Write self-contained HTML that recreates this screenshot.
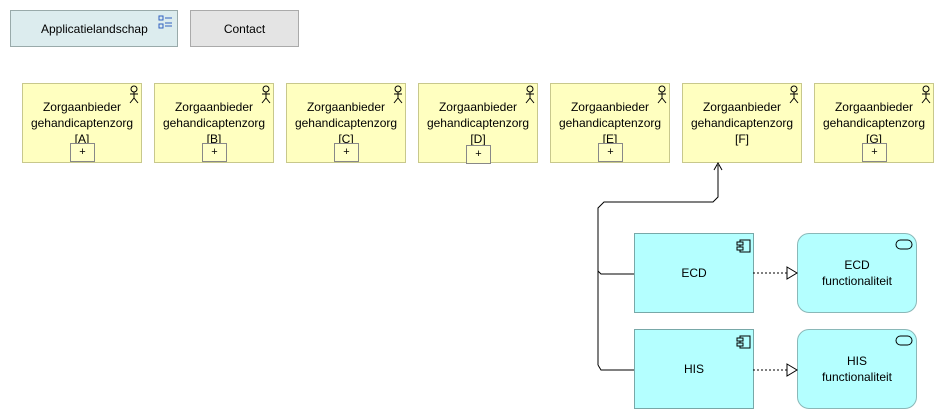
<!DOCTYPE html>
<html><head><style>
body{margin:0;width:944px;height:419px;background:#fff;position:relative;font-family:"Liberation Sans",sans-serif;font-size:12px;color:#000;overflow:hidden}
.b{position:absolute;box-sizing:border-box;display:flex;align-items:center;justify-content:center;text-align:center;line-height:16px}
.act{background:#ffffc0;border:1px solid #c8c88c;width:120px;height:80px;top:83px;align-items:flex-start;padding-top:15px}
.plus{position:absolute;left:47px;top:59px;width:25px;height:19px;border:1px solid #888;background:#ffffc8;box-sizing:border-box;font-size:11px;line-height:17px;text-align:center}
.app{background:#b4ffff;border:1px solid #78a8a8;width:120px;height:80px;left:634px}
.fn{background:#b4ffff;border:1px solid #8ab8b8;width:120px;height:80px;left:797px;border-radius:12px}
</style></head><body>
<div class="b" style="left:10px;top:10px;width:168px;height:37px;background:#dcecee;border:1px solid #9aa;justify-content:flex-start;padding-left:30px">
<span>Applicatielandschap</span></div>
<svg style="position:absolute;left:158px;top:15px" width="16" height="16"><rect x="1" y="1" width="4" height="4" fill="none" stroke="#3060c0"/><rect x="1" y="9" width="4" height="4" fill="none" stroke="#3060c0"/><path d="M7 3h7M7 8h7M7 11h7" stroke="#3060c0"/></svg>
<div class="b" style="left:190px;top:10px;width:109px;height:37px;background:#e4e4e4;border:1px solid #aaa">Contact</div>

<div class="b act" style="left:22px">Zorgaanbieder<br>gehandicaptenzorg<br>[A]<div class="plus">+</div></div>
<div class="b act" style="left:154px">Zorgaanbieder<br>gehandicaptenzorg<br>[B]<div class="plus">+</div></div>
<div class="b act" style="left:286px">Zorgaanbieder<br>gehandicaptenzorg<br>[C]<div class="plus">+</div></div>
<div class="b act" style="left:418px;padding-top:15px">Zorgaanbieder<br>gehandicaptenzorg<br>[D]<div class="plus" style="top:61px">+</div></div>
<div class="b act" style="left:550px">Zorgaanbieder<br>gehandicaptenzorg<br>[E]<div class="plus">+</div></div>
<div class="b act" style="left:682px">Zorgaanbieder<br>gehandicaptenzorg<br>[F]</div>
<div class="b act" style="left:814px">Zorgaanbieder<br>gehandicaptenzorg<br>[G]<div class="plus">+</div></div>

<div class="b app" style="top:233px">ECD</div>
<div class="b app" style="top:329px">HIS</div>
<div class="b fn" style="top:233px">ECD<br>functionaliteit</div>
<div class="b fn" style="top:329px">HIS<br>functionaliteit</div>

<svg style="position:absolute;left:0;top:0" width="944" height="419">
<g fill="none" stroke="#000" stroke-width="1">
<g id="ac"><circle cx="134" cy="89" r="3"/><path d="M134 92v6M130 94h8M134 98l-4 5M134 98l4 5"/></g>
<use href="#ac" x="132"/><use href="#ac" x="264"/><use href="#ac" x="396"/><use href="#ac" x="528"/><use href="#ac" x="660"/><use href="#ac" x="792"/>
<g id="cp"><rect x="740" y="240" width="10" height="12"/><rect x="737" y="242" width="6" height="3" fill="#b4ffff"/><rect x="737" y="247" width="6" height="3" fill="#b4ffff"/></g>
<use href="#cp" y="96"/>
<rect x="896" y="240" width="16" height="9" rx="4.5"/><rect x="896" y="336" width="16" height="9" rx="4.5"/>
<path d="M634 274H601l-3-3V208l6-6h109l5-5V165M598 365l3 5h33M598 271V365"/>
<path d="M714 170l4-7 4 7"/>
<path d="M753 273H787M753 370H787" stroke-dasharray="2 2"/>
<path d="M787 267l10 6-10 6zM787 364l10 6-10 6z" fill="#fff"/>
</g></svg>
</body></html>
